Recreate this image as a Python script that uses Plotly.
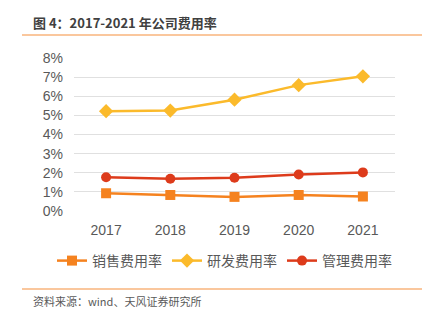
import plotly.graph_objects as go

years = ["2017", "2018", "2019", "2020", "2021"]
sales_rate = [0.93, 0.84, 0.74, 0.84, 0.76]
rd_rate = [5.22, 5.25, 5.82, 6.58, 7.04]
admin_rate = [1.77, 1.69, 1.74, 1.91, 2.02]
y_ticks = [0, 1, 2, 3, 4, 5, 6, 7, 8]
y_tick_text = [f"{v}%" for v in y_ticks]

W, H = 427, 321
L, R, T, B = 74, 32, 57, 109
pw, ph = W - L - R, H - T - B

def px(x):
    return (x - L) / pw

def py(y):
    return (H - B - y) / ph

FONT = "Noto Sans CJK SC, Liberation Sans, Arial, sans-serif"
GRAY = "#595959"

fig = go.Figure()
fig.add_trace(go.Scatter(x=years, y=sales_rate, name="销售费用率", mode="lines+markers",
                         line=dict(color="#F5821F", width=2.5),
                         marker=dict(symbol="square", size=10, color="#F5821F")))
fig.add_trace(go.Scatter(x=years, y=rd_rate, name="研发费用率", mode="lines+markers",
                         line=dict(color="#FBBA2B", width=2.5),
                         marker=dict(symbol="diamond", size=11, color="#FBBA2B")))
fig.add_trace(go.Scatter(x=years, y=admin_rate, name="管理费用率", mode="lines+markers",
                         line=dict(color="#DD3B1B", width=2.5),
                         marker=dict(symbol="circle", size=10, color="#DD3B1B")))

fig.update_layout(
    width=W, height=H,
    margin=dict(l=L, r=R, t=T, b=B),
    paper_bgcolor="white", plot_bgcolor="white",
    font=dict(family=FONT, color=GRAY, size=13),
    showlegend=True,
    legend=dict(orientation="h", x=px(52), xanchor="left", y=py(261), yanchor="middle",
                font=dict(size=14, color=GRAY), tracegroupgap=0),
    xaxis=dict(type="category", range=[-0.5, 4.5], showgrid=False, showline=False, zeroline=False,
               ticks="", tickfont=dict(size=14, color=GRAY, family="Liberation Sans, Arial"), ticklabelstandoff=8),
    yaxis=dict(range=[-0.05, 8.05], tickvals=y_ticks, ticktext=y_tick_text,
               showgrid=True, gridcolor="#E0E0E0", gridwidth=1, zeroline=False,
               showline=False, ticks="", tickfont=dict(size=14, color=GRAY, family="Liberation Sans, Arial"),
               ticklabelstandoff=10),
)

fig.add_annotation(text="<b>图 4：2017-2021 年公司费用率</b>", xref="paper", yref="paper",
                   x=px(31), y=py(22), xanchor="left", yanchor="middle", showarrow=False,
                   font=dict(size=13, color="#404040", family=FONT))
fig.add_annotation(text="资料来源：wind、天风证券研究所", xref="paper", yref="paper",
                   x=px(31), y=py(301), xanchor="left", yanchor="middle", showarrow=False,
                   font=dict(size=11, color=GRAY, family=FONT))
for yy in (35, 289):
    fig.add_shape(type="line", xref="paper", yref="paper", x0=px(22), x1=px(422),
                  y0=py(yy), y1=py(yy), line=dict(color="#F9B47D", width=1.5))

fig.write_html("out.html")
